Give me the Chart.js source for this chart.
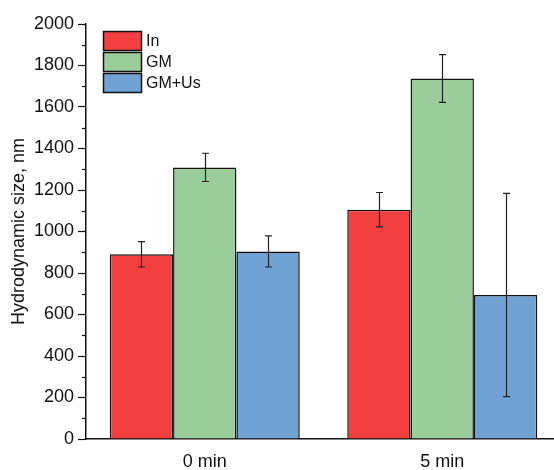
<!DOCTYPE html>
<html>
<head>
<meta charset="utf-8">
<title>Hydrodynamic size</title>
<script src="https://cdn.jsdelivr.net/npm/chart.js@4/dist/chart.umd.min.js"></script>
<style>
    html, body { margin: 0; padding: 0; background: #fff; overflow: hidden; }
    #wrap { width: 554px; height: 470px; overflow: hidden; }
    canvas { display: block; }
</style>
</head>
<body>
<div id="wrap"><canvas id="grafica" width="570" height="470"></canvas></div>
<script>
// Datos
const categorias = ['0 min', '5 min'];
const series = ['In', 'GM', 'GM+Us'];
const valoresIn = [890, 1105];
const erroresIn = [61, 83];
const valoresGM = [1309, 1737];
const erroresGM = [68, 115];
const valoresGMUs = [904, 694];
const erroresGMUs = [75, 490];
const ejeY = { min: 0, max: 2000, paso: 200, pasoMenor: 100 };

// Colores
const COLORES = {
    rojo: 'rgb(242, 64, 64)',
    verde: 'rgb(155, 205, 155)',
    azul: 'rgb(112, 163, 212)',
    borde: '#111',
    eje: '#111',
    texto: '#111'
};

const FUENTE = "'Liberation Sans', Arial, sans-serif";

/**
 * Barras de error (la media +/- el error de cada barra)
 */
const pluginErrores = {
    id: 'errores',
    afterDatasetsDraw(chart) {
        const ctx = chart.ctx;
        const y = chart.scales.y;
        ctx.save();
        ctx.strokeStyle = '#222';
        ctx.lineWidth = 1.2;
        chart.data.datasets.forEach((ds, i) => {
            const meta = chart.getDatasetMeta(i);
            meta.data.forEach((barra, j) => {
                const v = ds.data[j];
                const e = ds.errores[j];
                const x = Math.round(barra.x) + 0.5;
                const arriba = y.getPixelForValue(v + e);
                const abajo = y.getPixelForValue(v - e);
                ctx.beginPath();
                ctx.moveTo(x, arriba);
                ctx.lineTo(x, abajo);
                ctx.moveTo(x - 3.5, arriba);
                ctx.lineTo(x + 3.5, arriba);
                ctx.moveTo(x - 3.5, abajo);
                ctx.lineTo(x + 3.5, abajo);
                ctx.stroke();
            });
        });
        ctx.restore();
    }
};

/**
 * Marcas menores del eje Y
 */
const pluginMarcasMenores = {
    id: 'marcasMenores',
    afterDraw(chart) {
        const ctx = chart.ctx;
        const y = chart.scales.y;
        const x0 = chart.chartArea.left;
        ctx.save();
        ctx.strokeStyle = COLORES.eje;
        ctx.lineWidth = 1.2;
        for (let v = ejeY.min + ejeY.pasoMenor; v < ejeY.max; v += ejeY.paso) {
            const py = Math.round(y.getPixelForValue(v)) + 0.5;
            ctx.beginPath();
            ctx.moveTo(x0 - 4, py);
            ctx.lineTo(x0, py);
            ctx.stroke();
        }
        ctx.restore();
    }
};

/**
 * Leyenda dentro del area de la grafica
 */
const pluginLeyenda = {
    id: 'leyendaInterna',
    afterDraw(chart) {
        const ctx = chart.ctx;
        const x = 103, y0 = 31, ancho = 38, alto = 19, paso = 21;
        ctx.save();
        ctx.font = '16px ' + FUENTE;
        ctx.textBaseline = 'middle';
        chart.data.datasets.forEach((ds, i) => {
            const y = y0 + i * paso;
            ctx.fillStyle = ds.backgroundColor;
            ctx.fillRect(x, y, ancho, alto);
            ctx.strokeStyle = COLORES.borde;
            ctx.lineWidth = 1.5;
            ctx.strokeRect(x + 0.5, y + 0.5, ancho, alto);
            ctx.fillStyle = COLORES.texto;
            ctx.fillText(ds.label, x + ancho + 5, y + alto / 2 + 1);
        });
        ctx.restore();
    }
};

function crearDataset(label, data, errores, color) {
    return {
        label,
        data,
        errores,
        backgroundColor: color,
        borderColor: COLORES.borde,
        borderWidth: 1.5,
        borderSkipped: 'bottom',
        barPercentage: 1.0,
        categoryPercentage: 0.8
    };
}

new Chart(document.getElementById('grafica'), {
    type: 'bar',
    data: {
        labels: categorias,
        datasets: [
            crearDataset(series[0], valoresIn, erroresIn, COLORES.rojo),
            crearDataset(series[1], valoresGM, erroresGM, COLORES.verde),
            crearDataset(series[2], valoresGMUs, erroresGMUs, COLORES.azul)
        ]
    },
    options: {
        responsive: false,
        animation: false,
        devicePixelRatio: 1,
        layout: { padding: { top: 24, right: 9, left: 0, bottom: 0 } },
        plugins: {
            legend: { display: false },
            tooltip: { enabled: false }
        },
        scales: {
            x: {
                grid: { display: false, drawTicks: false },
                border: { display: true, color: COLORES.eje, width: 1.5 },
                ticks: {
                    color: COLORES.texto,
                    padding: 12,
                    font: { size: 18, family: FUENTE }
                },
                afterFit(scale) { scale.height = 31; }
            },
            y: {
                min: ejeY.min,
                max: ejeY.max,
                grid: {
                    drawOnChartArea: false,
                    drawTicks: true,
                    tickLength: 8,
                    tickColor: COLORES.eje,
                    tickWidth: 1.2
                },
                border: { display: true, color: COLORES.eje, width: 1.5 },
                ticks: {
                    stepSize: ejeY.paso,
                    color: COLORES.texto,
                    padding: 4,
                    font: { size: 18, family: FUENTE },
                    callback: function (value) {
                        return String(value);
                    }
                },
                title: {
                    display: true,
                    text: 'Hydrodynamic size, nm',
                    color: COLORES.texto,
                    font: { size: 18, family: FUENTE },
                    padding: { top: 8, bottom: 0 }
                },
                afterFit(scale) { scale.width = 86; }
            }
        }
    },
    plugins: [pluginErrores, pluginMarcasMenores, pluginLeyenda]
});
</script>
</body>
</html>
